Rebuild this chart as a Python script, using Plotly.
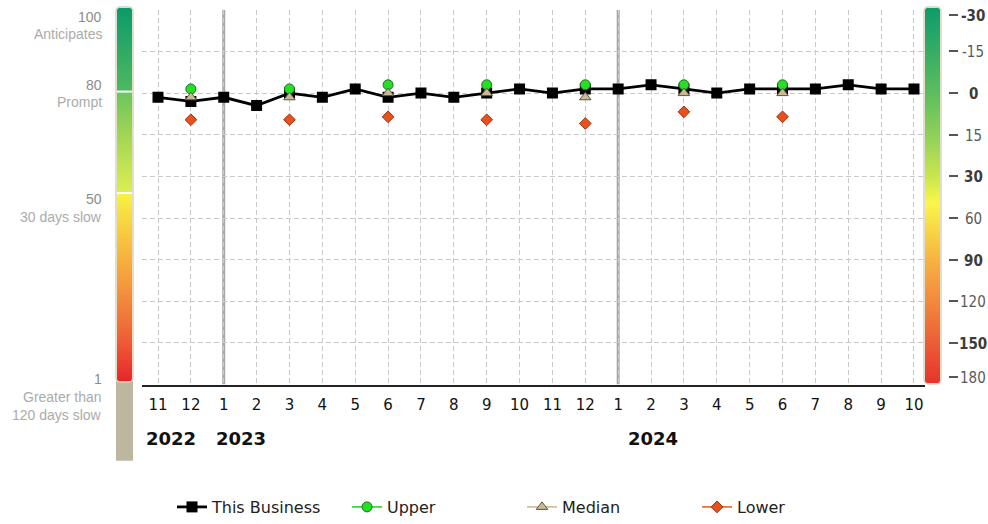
import numpy as np
import plotly.graph_objects as go

W, H = 988, 524

# ---------------- data ----------------
months = ["11", "12", "1", "2", "3", "4", "5", "6", "7", "8", "9", "10",
          "11", "12", "1", "2", "3", "4", "5", "6", "7", "8", "9", "10"]
year_labels = ["2022", "2023", "2024"]
year_start_idx = [0, 2, 14]
year_line_idx = [2, 14]

this_business = [79, 78, 79, 77, 80, 79, 81, 79, 80, 79, 80, 81,
                 80, 81, 81, 82, 81, 80, 81, 81, 81, 82, 81, 81]
N = None
upper = [N, 81, N, N, 81, N, N, 82, N, N, 82, N,
         N, 82, N, N, 82, N, N, 82, N, N, N, N]
median = [N, 79, N, N, 79, N, N, 80, N, N, 80, N,
          N, 79, N, N, 80, N, N, 80, N, N, N, N]
lower = [N, 73.6, N, N, 73.6, N, N, 74.3, N, N, 73.6, N,
         N, 72.7, N, N, 75.5, N, N, 74.3, N, N, N, N]

right_tick_labels = ["-30", "-15", "0", "15", "30", "60", "90", "120", "150", "180"]
right_tick_bold = [True, False, True, False, True, False, True, False, True, False]
right_tick_pos = [98.8, 90, 80, 70, 60, 50, 40, 30, 20, 11.9]

left_numbers = ["100", "80", "50", "1"]
left_words = [["Anticipates"], ["Prompt"], ["30 days slow"], ["Greater than", "120 days slow"]]

x = list(range(len(months)))


def px_x(p):
    return p / W


def px_y(p):
    return 1 - p / H


fig = go.Figure()

GRID = "#c9c9c9"
DASH = "5px,3px"

fig.add_trace(go.Scatter(
    x=x, y=this_business, name="This Business", mode="lines+markers",
    line=dict(color="#000000", width=2.8),
    marker=dict(symbol="square", size=11, color="#000000"),
))
fig.add_trace(go.Scatter(
    x=x, y=upper, name="Upper", mode="lines+markers",
    line=dict(color="#22cc22", width=1.5),
    marker=dict(symbol="circle", size=10, color="#22e022",
                line=dict(color="#2a6a2a", width=1)),
))
fig.add_trace(go.Scatter(
    x=x, y=median, name="Median", mode="lines+markers",
    line=dict(color="#c8b88a", width=1.5),
    marker=dict(symbol="triangle-up", size=10, color="#c9bb8e",
                line=dict(color="#555555", width=1)),
))
fig.add_trace(go.Scatter(
    x=x, y=lower, name="Lower", mode="lines+markers",
    line=dict(color="#e8541e", width=1.5),
    marker=dict(symbol="diamond", size=9, color="#e8501c",
                line=dict(color="#a03010", width=1)),
))

# ---------------- gradient bars ----------------
nz = 300
yy = np.linspace(0, 1, nz)
zz = [[1 - v] for v in yy]  # 0 at top, 1 at bottom

left_scale = [
    [0.0, "#0b9a6b"], [0.224, "#4fb95f"], [0.226, "#6cc45b"],
    [0.35, "#a6d655"], [0.494, "#dcee50"], [0.496, "#f7f244"],
    [0.62, "#f8c43f"], [0.76, "#f3923e"], [0.9, "#ee5a35"], [1.0, "#e8262a"],
]
right_scale = [
    [0.0, "#0e9b6c"], [0.226, "#5cbd5e"], [0.34, "#8fd05a"],
    [0.45, "#c9e64e"], [0.52, "#f9f64a"], [0.67, "#f6b443"],
    [0.78, "#f28a3e"], [0.89, "#ec5e37"], [1.0, "#e8342c"],
]

fig.add_trace(go.Heatmap(z=zz, x=[0], y=yy, colorscale=left_scale, zmin=0, zmax=1,
                         showscale=False, hoverinfo="skip", xaxis="x3", yaxis="y3",
                         showlegend=False))
fig.add_trace(go.Heatmap(z=zz, x=[0], y=yy, colorscale=right_scale, zmin=0, zmax=1,
                         showscale=False, hoverinfo="skip", xaxis="x4", yaxis="y4",
                         showlegend=False))

LB = (117, 132, 8, 387)   # left bar x0, x1, ytop, ybottom (px)
RB = (925, 940, 8, 389)


def rounded_path(x0, x1, y0, y1, r=5):
    X = lambda v: f"{px_x(v):.5f}"
    Y = lambda v: f"{px_y(v):.5f}"
    p = f"M {X(x0)},{Y(y0 + r)} Q {X(x0)},{Y(y0)} {X(x0 + r)},{Y(y0)} "
    p += f"L {X(x1 - r)},{Y(y0)} Q {X(x1)},{Y(y0)} {X(x1)},{Y(y0 + r)} "
    p += f"L {X(x1)},{Y(y1 - r)} Q {X(x1)},{Y(y1)} {X(x1 - r)},{Y(y1)} "
    p += f"L {X(x0 + r)},{Y(y1)} Q {X(x0)},{Y(y1)} {X(x0)},{Y(y1 - r)} Z"
    return p


shapes = []
shapes.append(dict(type="rect", xref="paper", yref="paper",
                   x0=px_x(LB[0] - 1), x1=px_x(LB[1] + 1), y0=px_y(468), y1=px_y(LB[3] - 2),
                   fillcolor="#bdb79f", line=dict(width=0), layer="below"))
for yb in (93, 196):
    shapes.append(dict(type="line", xref="paper", yref="paper",
                       x0=px_x(LB[0]), x1=px_x(LB[1]), y0=px_y(yb), y1=px_y(yb),
                       line=dict(color="#ffffff", width=2)))
shapes.append(dict(type="path", xref="paper", yref="paper",
                   path=rounded_path(LB[0] - 1, LB[1] + 1, LB[2] - 1, LB[3] + 1),
                   line=dict(color="#d9d3bd", width=1.5)))
shapes.append(dict(type="path", xref="paper", yref="paper",
                   path=rounded_path(RB[0] - 1, RB[1] + 1, RB[2] - 1, RB[3] + 1),
                   line=dict(color="#d9d3bd", width=1.5)))
for i in year_line_idx:
    shapes.append(dict(type="line", xref="x", yref="y", x0=i, x1=i, y0=10, y1=100,
                       line=dict(color="#a8a8a8", width=3), layer="below"))

annotations = []
LFONT = "Liberation Sans, Arial, sans-serif"
num_y = [17, 86.5, 202.5, 385]
word_y = [[35], [104], [220], [403, 421]]
for num, words, yn, yws in zip(left_numbers, left_words, num_y, word_y):
    annotations.append(dict(xref="paper", yref="paper", x=px_x(104), y=px_y(yn),
                            xanchor="right", yanchor="middle", text=num, showarrow=False,
                            font=dict(family=LFONT, size=14, color="#8c8c8c")))
    for w, yw in zip(words, yws):
        annotations.append(dict(xref="paper", yref="paper", x=px_x(104), y=px_y(yw),
                                xanchor="right", yanchor="middle", text=w, showarrow=False,
                                font=dict(family=LFONT, size=14, color="#ababab")))
for lab, bold, yv in zip(right_tick_labels, right_tick_bold, right_tick_pos):
    annotations.append(dict(xref="paper", yref="y", x=px_x(973), y=yv, yshift=-1,
                            xanchor="center", yanchor="middle",
                            text=f"<b>{lab}</b>" if bold else lab, showarrow=False,
                            font=dict(family="Liberation Sans Narrow, Arial Narrow, DejaVu Sans Condensed, sans-serif",
                                      size=15, color="#3c3c3c" if bold else "#5a5a5a")))
year_shift = [-14, -10, 8]
for lab, i, s in zip(year_labels, year_start_idx, year_shift):
    annotations.append(dict(xref="x", yref="paper", x=i, y=px_y(445), xanchor="left",
                            yanchor="middle", xshift=s, text=f"<b>{lab}</b>", showarrow=False,
                            font=dict(family="DejaVu Sans", size=18, color="#111111")))

fig.update_layout(
    width=W, height=H, autosize=False,
    margin=dict(l=0, r=0, t=0, b=0),
    paper_bgcolor="#ffffff", plot_bgcolor="#ffffff",
    font=dict(family="DejaVu Sans", size=14, color="#222222"),
    xaxis=dict(domain=[px_x(142), px_x(925)], range=[-0.487, 23.335],
               tickmode="array", tickvals=x, ticktext=months,
               showgrid=True, gridcolor=GRID, griddash=DASH, gridwidth=1,
               showline=True, linecolor="#222222", linewidth=2,
               ticks="outside", ticklen=5, tickcolor="rgba(0,0,0,0)",
               tickfont=dict(family="DejaVu Sans", size=15, color="#111111"),
               zeroline=False, fixedrange=True, anchor="y"),
    yaxis=dict(domain=[px_y(390.5), px_y(10)], range=[10, 100], tick0=10, dtick=10,
               showticklabels=False, showgrid=True, gridcolor=GRID, griddash=DASH,
               gridwidth=1, zeroline=False, showline=False, fixedrange=True),
    yaxis2=dict(overlaying="y", anchor="free", position=px_x(948), side="right",
                range=[10, 100], tickmode="array", tickvals=right_tick_pos,
                ticks="outside", ticklen=9, tickwidth=2, tickcolor="#555555",
                showticklabels=False, showgrid=False, zeroline=False, showline=False,
                fixedrange=True),
    xaxis3=dict(domain=[px_x(LB[0]), px_x(LB[1])], visible=False, fixedrange=True,
                anchor="y3"),
    yaxis3=dict(domain=[px_y(LB[3]), px_y(LB[2])], range=[0, 1], visible=False,
                fixedrange=True, anchor="x3"),
    xaxis4=dict(domain=[px_x(RB[0]), px_x(RB[1])], visible=False, fixedrange=True,
                anchor="y4"),
    yaxis4=dict(domain=[px_y(RB[3]), px_y(RB[2])], range=[0, 1], visible=False,
                fixedrange=True, anchor="x4"),
    legend=dict(orientation="h", x=px_x(172), y=px_y(515), xanchor="left",
                yanchor="middle", font=dict(family="DejaVu Sans", size=16, color="#222222"),
                entrywidth=130, entrywidthmode="pixels", itemwidth=30,
                bgcolor="rgba(0,0,0,0)", traceorder="normal"),
    shapes=shapes,
    annotations=annotations,
    showlegend=True,
)

fig.add_trace(go.Scatter(x=[None], y=[None], yaxis="y2", showlegend=False, hoverinfo="skip"))

fig.write_html("out.html")
